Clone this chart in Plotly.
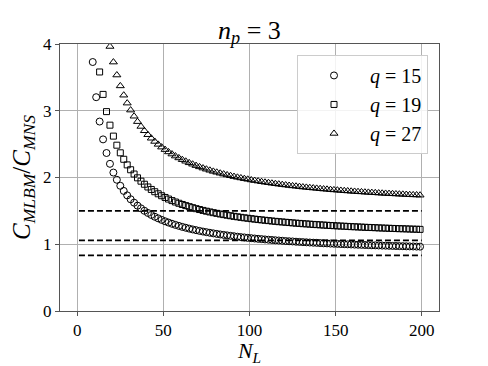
"""
Cost ratio C_MLBM / C_MNS against N_L for n_p = 3
"""
import plotly.graph_objects as go

# N_L sample points (odd values)
n_l = [9, 11, 13, 15, 17, 19, 21, 23, 25, 27, 29, 31, 33, 35, 37, 39, 41, 43, 45, 47,
       49, 51, 53, 55, 57, 59, 61, 63, 65, 67, 69, 71, 73, 75, 77, 79, 81, 83, 85, 87,
       89, 91, 93, 95, 97, 99, 101, 103, 105, 107, 109, 111, 113, 115, 117, 119, 121,
       123, 125, 127, 129, 131, 133, 135, 137, 139, 141, 143, 145, 147, 149, 151, 153,
       155, 157, 159, 161, 163, 165, 167, 169, 171, 173, 175, 177, 179, 181, 183, 185,
       187, 189, 191, 193, 195, 197, 199]

ratio_q15 = [3.730, 3.203, 2.838, 2.571, 2.367, 2.205, 2.074, 1.966, 1.876, 1.799,
             1.732, 1.674, 1.623, 1.578, 1.538, 1.501, 1.469, 1.439, 1.412, 1.388,
             1.365, 1.344, 1.325, 1.307, 1.290, 1.275, 1.260, 1.247, 1.234, 1.222,
             1.211, 1.200, 1.190, 1.181, 1.172, 1.163, 1.155, 1.147, 1.140, 1.133,
             1.126, 1.120, 1.113, 1.107, 1.102, 1.096, 1.091, 1.086, 1.081, 1.077,
             1.072, 1.068, 1.064, 1.060, 1.056, 1.052, 1.048, 1.045, 1.042, 1.038,
             1.035, 1.032, 1.029, 1.026, 1.023, 1.021, 1.018, 1.015, 1.013, 1.010,
             1.008, 1.006, 1.003, 1.001, 0.999, 0.997, 0.995, 0.993, 0.991, 0.989,
             0.987, 0.985, 0.984, 0.982, 0.980, 0.979, 0.977, 0.975, 0.974, 0.972,
             0.971, 0.969, 0.968, 0.967, 0.965, 0.964]

ratio_q19 = [3.581, 3.245, 2.987, 2.784, 2.620, 2.484, 2.370, 2.273, 2.189, 2.116,
             2.052, 1.995, 1.945, 1.899, 1.858, 1.821, 1.787, 1.756, 1.727, 1.701,
             1.677, 1.654, 1.633, 1.614, 1.596, 1.579, 1.563, 1.548, 1.533, 1.520,
             1.507, 1.495, 1.484, 1.473, 1.463, 1.453, 1.444, 1.435, 1.427, 1.418,
             1.411, 1.403, 1.396, 1.389, 1.383, 1.376, 1.370, 1.365, 1.359, 1.354,
             1.348, 1.343, 1.338, 1.334, 1.329, 1.325, 1.320, 1.316, 1.312, 1.308,
             1.305, 1.301, 1.297, 1.294, 1.291, 1.287, 1.284, 1.281, 1.278, 1.275,
             1.272, 1.270, 1.267, 1.264, 1.262, 1.259, 1.257, 1.254, 1.252, 1.250,
             1.248, 1.245, 1.243, 1.241, 1.239, 1.237, 1.235, 1.233, 1.232, 1.230,
             1.228, 1.226, 1.225, 1.223]

ratio_q27 = [3.963, 3.729, 3.535, 3.372, 3.233, 3.114, 3.010, 2.918, 2.837, 2.765,
             2.700, 2.641, 2.588, 2.540, 2.496, 2.455, 2.418, 2.383, 2.351, 2.321,
             2.293, 2.267, 2.243, 2.220, 2.199, 2.178, 2.159, 2.141, 2.124, 2.108,
             2.092, 2.078, 2.064, 2.051, 2.038, 2.026, 2.014, 2.003, 1.993, 1.982,
             1.973, 1.963, 1.954, 1.946, 1.937, 1.929, 1.922, 1.914, 1.907, 1.900,
             1.893, 1.887, 1.880, 1.874, 1.869, 1.863, 1.857, 1.852, 1.847, 1.842,
             1.837, 1.832, 1.827, 1.823, 1.818, 1.814, 1.810, 1.806, 1.802, 1.798,
             1.794, 1.791, 1.787, 1.784, 1.780, 1.777, 1.774, 1.771, 1.767, 1.764,
             1.761, 1.759, 1.756, 1.753, 1.750, 1.748, 1.745, 1.742, 1.740, 1.738,
             1.735]

# asymptote levels drawn as dashed lines
dash_levels = [0.833, 1.058, 1.5]
dash_span = [1, 200]

series = [
    ("<i>q</i> = 15", n_l, ratio_q15, "circle-open", 7),
    ("<i>q</i> = 19", n_l[2:], ratio_q19, "square-open", 6),
    ("<i>q</i> = 27", n_l[5:], ratio_q27, "triangle-up-open", 7),
]

FONT = "Liberation Serif, Times New Roman, serif"

fig = go.Figure()
for name, x, y, symbol, size in series:
    fig.add_trace(go.Scatter(
        x=x, y=y, mode="markers", name=name,
        marker=dict(symbol=symbol, size=size, color="black", line=dict(width=1, color="black")),
    ))

for level in dash_levels:
    fig.add_trace(go.Scatter(
        x=dash_span, y=[level, level], mode="lines", showlegend=False,
        line=dict(color="black", width=1.6, dash="6px,3px"),
    ))

axis_common = dict(
    showgrid=True, gridcolor="#b0b0b0", gridwidth=0.8,
    showline=True, linecolor="#555555", linewidth=1, mirror=True,
    ticks="outside", ticklen=4, tickcolor="#555555",
    zeroline=False, tickfont=dict(family=FONT, size=17, color="black"),
)

# the page body has an 8px margin, so the figure is 8px smaller than the window
fig.update_layout(
    width=480, height=358,
    margin=dict(l=52, r=49, t=36, b=55, autoexpand=False),
    paper_bgcolor="white", plot_bgcolor="white",
    font=dict(family=FONT, color="black"),
    title=dict(text="<i>n</i><sub><i>p</i></sub> = 3", x=0.5, xref="paper",
               y=0.94, yref="container", yanchor="middle", font=dict(family=FONT, size=26)),
    xaxis=dict(range=[-10, 210], tickvals=[0, 50, 100, 150, 200],
               title=dict(text="<i>N</i><sub><i>L</i></sub>", font=dict(size=22), standoff=6),
               automargin=False, **axis_common),
    yaxis=dict(range=[0, 4], tickvals=[0, 1, 2, 3, 4],
               title=dict(text="<i>C</i><sub><i>MLBM</i></sub>/<i>C</i><sub><i>MNS</i></sub>",
                          font=dict(size=25), standoff=8),
               automargin=False, **axis_common),
    legend=dict(x=0.971, y=0.959, xanchor="right", yanchor="top",
                bgcolor="rgba(255,255,255,0.85)", bordercolor="#cccccc", borderwidth=1,
                font=dict(family=FONT, size=20), itemwidth=62, tracegroupgap=0),
)

fig.write_html("out.html")
